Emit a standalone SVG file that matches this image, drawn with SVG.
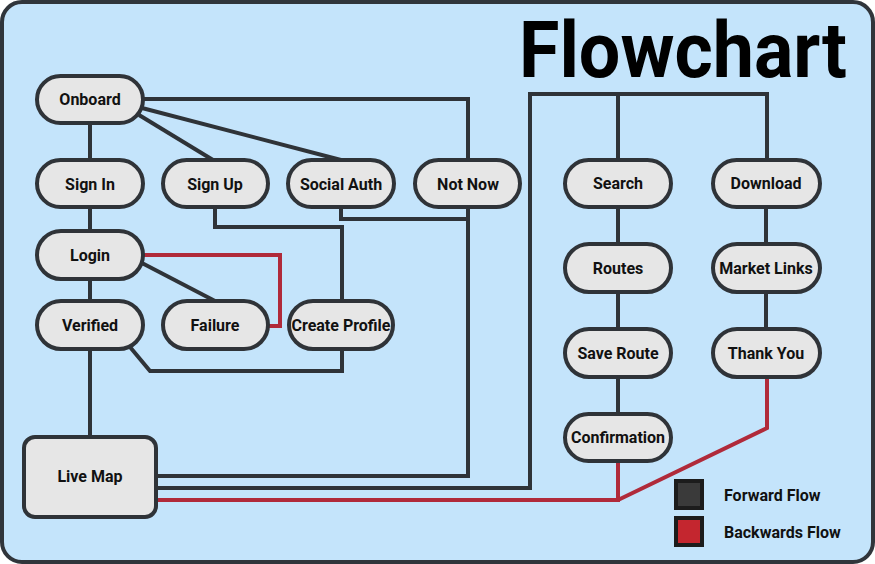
<svg xmlns="http://www.w3.org/2000/svg" width="875" height="564" viewBox="0 0 875 564">
<style>
.bg{fill:#c4e4fb;stroke:#30353b;stroke-width:4}
.node rect{fill:#e6e6e6;stroke:#2f3338;stroke-width:4}
.node text,.lbl{font-family:Roboto,"Liberation Sans",sans-serif;font-weight:bold;font-size:16px;fill:#111;text-anchor:middle;dominant-baseline:central}
.lbl{text-anchor:start}
.fw{fill:none;stroke:#2f3338;stroke-width:4}
.bw{fill:none;stroke:#b02a3a;stroke-width:4}
.title{font-family:Roboto,"Liberation Sans",sans-serif;font-weight:bold;font-size:78px;fill:#000}
</style>
<rect class="bg" x="2" y="2" width="871" height="560" rx="20"/>
<text class="title" x="519" y="77" textLength="328" lengthAdjust="spacingAndGlyphs">Flowchart</text>
<g id="connectors">
<path class="fw" d="M143 99H468V160"/>
<path class="fw" d="M139 115L213 160"/>
<path class="fw" d="M142 108L341 160"/>
<path class="fw" d="M90 123V160M90 207V231M90 279V301M90 349V437"/>
<path class="fw" d="M140 262L215 301"/>
<path class="fw" d="M215 207V227H342V301"/>
<path class="fw" d="M341 207V219H468"/>
<path class="fw" d="M468 207V476H156"/>
<path class="fw" d="M130 347L150 371H342V349"/>
<path class="fw" d="M156 488H530V94H767V160M618 94V160"/>
<path class="fw" d="M618 207V244M618 292V329M618 377V414"/>
<path class="fw" d="M766 207V244M766 292V329"/>
<path class="bw" d="M143 255H280V326H268"/>
<path class="bw" d="M156 500H618V461M618 500L767 428V377"/>
</g>
<g id="onboard" class="node"><rect x="37" y="76" width="106" height="47" rx="23.5"/><text x="90" y="99">Onboard</text></g>
<g id="signin" class="node"><rect x="37" y="160" width="106" height="47" rx="23.5"/><text x="90" y="184">Sign In</text></g>
<g id="signup" class="node"><rect x="163" y="160" width="105" height="47" rx="23.5"/><text x="215" y="184">Sign Up</text></g>
<g id="socialauth" class="node"><rect x="288" y="160" width="106" height="47" rx="23.5"/><text x="341" y="184">Social Auth</text></g>
<g id="notnow" class="node"><rect x="415" y="160" width="105" height="47" rx="23.5"/><text x="468" y="184">Not Now</text></g>
<g id="login" class="node"><rect x="37" y="231" width="106" height="48" rx="24"/><text x="90" y="255">Login</text></g>
<g id="verified" class="node"><rect x="37" y="301" width="106" height="48" rx="24"/><text x="90" y="325">Verified</text></g>
<g id="failure" class="node"><rect x="163" y="301" width="105" height="48" rx="24"/><text x="215" y="325">Failure</text></g>
<g id="createprofile" class="node"><rect x="289" y="301" width="104" height="48" rx="24"/><text x="341" y="325">Create Profile</text></g>
<g id="livemap" class="node"><rect x="24" y="437" width="132" height="80" rx="11"/><text x="90" y="476">Live Map</text></g>
<g id="search" class="node"><rect x="565" y="160" width="106" height="47" rx="23.5"/><text x="618" y="183">Search</text></g>
<g id="download" class="node"><rect x="713" y="160" width="107" height="47" rx="23.5"/><text x="766" y="183">Download</text></g>
<g id="routes" class="node"><rect x="565" y="244" width="106" height="48" rx="24"/><text x="618" y="268">Routes</text></g>
<g id="marketlinks" class="node"><rect x="713" y="244" width="107" height="48" rx="24"/><text x="766" y="268">Market Links</text></g>
<g id="saveroute" class="node"><rect x="565" y="329" width="106" height="48" rx="24"/><text x="618" y="353">Save Route</text></g>
<g id="thankyou" class="node"><rect x="713" y="329" width="107" height="48" rx="24"/><text x="766" y="353">Thank You</text></g>
<g id="confirmation" class="node"><rect x="565" y="414" width="106" height="47" rx="23.5"/><text x="618" y="437">Confirmation</text></g>
<g id="legend">
<rect x="676" y="481" width="26" height="27" fill="#3a3a3a" stroke="#1c1c1c" stroke-width="4"/>
<rect x="676" y="518" width="26" height="27" fill="#c4262f" stroke="#1c1c1c" stroke-width="4"/>
<text class="lbl" x="724" y="495">Forward Flow</text>
<text class="lbl" x="724" y="532">Backwards Flow</text>
</g>
</svg>
